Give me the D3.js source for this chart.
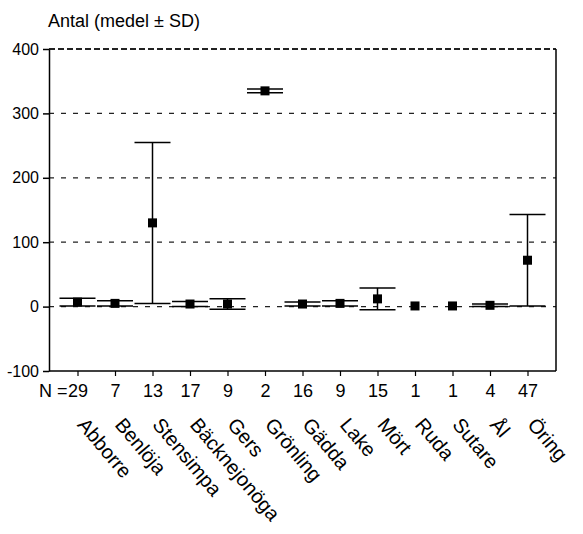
<!DOCTYPE html>
<html>
<head>
<meta charset="utf-8">
<script src="https://cdn.jsdelivr.net/npm/d3@7"></script>
<style>
  body { margin: 0; background: #fff; }
  text { font-family: "Liberation Sans", Arial, sans-serif; fill: #000; }
</style>
</head>
<body>
<div id="chart"></div>
<script>
// species, sample sizes, mean and SD of counts
const species = ["Abborre", "Benlöja", "Stensimpa", "Bäcknejonöga", "Gers", "Grönling",
  "Gädda", "Lake", "Mört", "Ruda", "Sutare", "Ål", "Öring"];
const nValues = [29, 7, 13, 17, 9, 2, 16, 9, 15, 1, 1, 4, 47];
const means = [7, 5, 130, 4, 4, 335, 4, 5, 12, 1, 1, 2, 72];
const sds = [6, 4, 125, 4, 8, 3, 3, 4, 17, 0, 0, 2, 71];
const yTicks = [-100, 0, 100, 200, 300, 400];

const width = 583, height = 534;
const plotLeft = 49, plotRight = 556, plotTop = 49, plotBottom = 371;

const svg = d3.select("#chart").append("svg")
  .attr("width", width)
  .attr("height", height);

const y = d3.scaleLinear().domain([-100, 400]).range([plotBottom, plotTop]);
const x = d3.scalePoint().domain(species).range([plotLeft, plotRight]).padding(0.76);

// dashed grid lines
svg.append("g")
  .selectAll("line")
  .data(yTicks.filter(d => d >= 0))
  .join("line")
  .attr("x1", plotLeft)
  .attr("x2", plotRight)
  .attr("y1", d => y(d))
  .attr("y2", d => y(d))
  .attr("stroke", "#222")
  .attr("stroke-width", d => d === 400 ? 1.8 : 1.2)
  .attr("stroke-dasharray", d => d === 400 ? "6,3" : "5,7");

// right border
svg.append("line")
  .attr("x1", plotRight).attr("x2", plotRight)
  .attr("y1", plotTop).attr("y2", plotBottom)
  .attr("stroke", "#000").attr("stroke-width", 1.5);

// y axis
const yAxis = svg.append("g")
  .attr("transform", `translate(${plotLeft},0)`)
  .call(d3.axisLeft(y).tickValues(yTicks).tickSize(6).tickPadding(4)
    .tickSizeOuter(0).tickFormat(d => String(d)));
yAxis.select(".domain").attr("stroke-width", 1.5);
yAxis.selectAll("line").attr("stroke-width", 1.5);
yAxis.selectAll("text").style("font-size", "16px").attr("font-family", null);

// x axis with N labels
const xAxis = svg.append("g")
  .attr("transform", `translate(0,${plotBottom})`)
  .call(d3.axisBottom(x).tickSize(5).tickSizeOuter(0).tickFormat((d, i) => nValues[i]));
xAxis.select(".domain").attr("stroke-width", 1.5).attr("d", `M${plotLeft},0H${plotRight}`);
xAxis.selectAll("line").attr("stroke-width", 1.2);
xAxis.selectAll("text")
  .attr("y", 13)
  .attr("dy", "0.71em")
  .style("font-size", "18px")
  .attr("font-family", null);

svg.append("text")
  .attr("x", x(species[0]) - 10)
  .attr("y", plotBottom + 13)
  .attr("dy", "0.71em")
  .attr("text-anchor", "end")
  .style("font-size", "18px")
  .text("N =");

// rotated species labels
svg.append("g")
  .selectAll("text")
  .data(species)
  .join("text")
  .attr("transform", d => `translate(${x(d) + 10},${plotBottom + 45}) rotate(50)`)
  .attr("dy", "0.71em")
  .style("font-size", "20px")
  .text(d => d);

// error bars
const capW = 36;
const bars = svg.append("g")
  .selectAll("g")
  .data(species.map((s, i) => ({ s, m: means[i], sd: sds[i] })).filter(d => d.sd > 0))
  .join("g");

bars.append("line")
  .attr("x1", d => x(d.s)).attr("x2", d => x(d.s))
  .attr("y1", d => y(d.m + d.sd)).attr("y2", d => y(d.m - d.sd))
  .attr("stroke", "#000").attr("stroke-width", 1.5);

bars.selectAll(".cap")
  .data(d => [{ s: d.s, v: d.m + d.sd }, { s: d.s, v: d.m - d.sd }])
  .join("line")
  .attr("class", "cap")
  .attr("x1", d => x(d.s) - capW / 2).attr("x2", d => x(d.s) + capW / 2)
  .attr("y1", d => y(d.v)).attr("y2", d => y(d.v))
  .attr("stroke", "#000").attr("stroke-width", 1.5);

// mean markers
svg.append("g")
  .selectAll("rect")
  .data(species)
  .join("rect")
  .attr("x", d => x(d) - 4.5)
  .attr("y", (d, i) => y(means[i]) - 4.5)
  .attr("width", 9)
  .attr("height", 9)
  .attr("fill", "#000");

// title
svg.append("text")
  .attr("x", 48)
  .attr("y", 27)
  .style("font-size", "18px")
  .text("Antal (medel ± SD)");
</script>
</body>
</html>
